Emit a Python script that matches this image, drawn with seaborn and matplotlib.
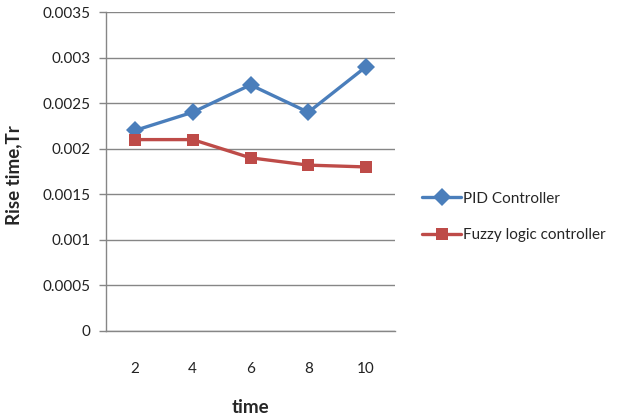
import matplotlib
matplotlib.use("Agg")
import matplotlib.pyplot as plt
import seaborn as sns
import pandas as pd
import numpy as np
from matplotlib.ticker import FixedLocator

categories = ["2", "4", "6", "8", "10"]
pid_values = [0.0022, 0.0024, 0.0027, 0.0024, 0.0029]
fuzzy_values = [0.0021, 0.0021, 0.0019, 0.00182, 0.0018]
series_names = ["PID Controller", "Fuzzy logic controller"]
y_ticks = [0, 0.0005, 0.001, 0.0015, 0.002, 0.0025, 0.003, 0.0035]
y_tick_labels = ["0", "0.0005", "0.001", "0.0015", "0.002", "0.0025", "0.003", "0.0035"]

sns.set_style("white")
plt.rcParams["font.family"] = ["Lato", "DejaVu Sans"]

df = pd.DataFrame({
    "time": list(range(len(categories))) * 2,
    "value": pid_values + fuzzy_values,
    "series": [series_names[0]] * len(categories) + [series_names[1]] * len(categories),
})

fig = plt.figure(figsize=(6.19, 4.17), dpi=100)
ax = fig.add_axes([106 / 619, 1 - 331 / 417, (395 - 106) / 619, (331 - 12) / 417])

palette = {series_names[0]: "#4A7EBB", series_names[1]: "#BE4B48"}
markers = {series_names[0]: "D", series_names[1]: "s"}
sns.lineplot(data=df, x="time", y="value", hue="series", style="series",
             palette=palette, markers=markers, dashes=False, linewidth=2.4,
             markersize=9, markeredgewidth=0, ax=ax)

ax.set_ylim(0, 0.0035)
ax.set_xlim(-0.5, len(categories) - 0.5)
ax.set_yticks(y_ticks)
ax.set_yticklabels(y_tick_labels, fontsize=11, color="#222222")
ax.set_xticks(range(len(categories)))
ax.set_xticklabels(categories, fontsize=11, color="#222222")
ax.xaxis.set_minor_locator(FixedLocator(np.arange(-0.5, len(categories), 1.0)))
ax.tick_params(axis="x", which="major", length=0, pad=22)
ax.tick_params(axis="x", which="minor", length=5, color="#868686", width=1, direction="out")
ax.tick_params(axis="y", length=5, color="#868686", width=1, direction="out", pad=6, left=True)

ax.yaxis.grid(True, color="#868686", linewidth=1)
ax.xaxis.grid(False)
for side in ["top", "right"]:
    ax.spines[side].set_visible(False)
for side in ["left", "bottom"]:
    ax.spines[side].set_color("#868686")
    ax.spines[side].set_linewidth(1)

ax.set_xlabel("time", fontsize=13.5, fontweight="bold", labelpad=17)
ax.set_ylabel("Rise time,Tr", fontsize=13.5, fontweight="bold")
ax.yaxis.set_label_coords(-0.29, 0.49)

handles, labels = ax.get_legend_handles_labels()
ax.legend(handles, labels, loc="center left", bbox_to_anchor=(408 / 619, 1 - 217 / 417),
          bbox_transform=fig.transFigure, frameon=False, fontsize=11,
          handlelength=2.6, handletextpad=0.1, labelspacing=1.5)

fig.savefig("out.png", dpi=100)
